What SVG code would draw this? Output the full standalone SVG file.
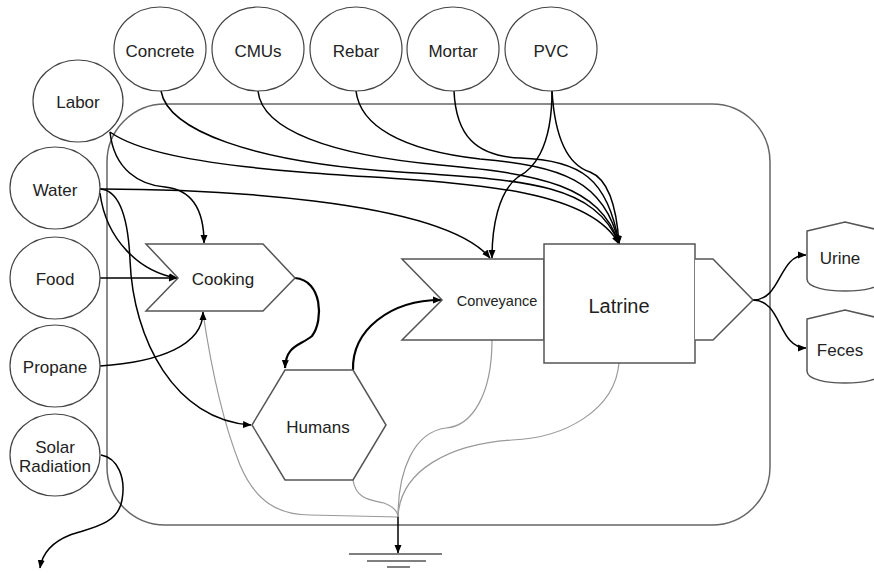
<svg xmlns="http://www.w3.org/2000/svg" width="874" height="574" viewBox="0 0 874 574">
<style>
.node{fill:#fff;stroke:#555;stroke-width:1.5}
.ell{fill:#fff;stroke:#444;stroke-width:1.2}
.t{font-family:"Liberation Sans",Arial,sans-serif;font-size:17px;fill:#222;text-anchor:middle;dominant-baseline:central}
.c{fill:none;stroke:#000;stroke-width:1.5}
.ck{fill:none;stroke:#000;stroke-width:2.2}
.g{fill:none;stroke:#999;stroke-width:1.2}
.ar{marker-end:url(#ah)}
</style>
<defs>
<marker id="ah" markerWidth="9" markerHeight="8" refX="8" refY="4" orient="auto" markerUnits="userSpaceOnUse">
<path d="M0,0.5 L8.5,4 L0,7.5 Z" fill="#000"/>
</marker>
</defs>
<rect x="0" y="0" width="874" height="574" fill="#fff"/>
<g id="boundary">
<rect x="107" y="104" width="663" height="421" rx="58" ry="58" fill="none" stroke="#666" stroke-width="1.5"/>
</g>
<g id="connectors">
<path class="g" d="M203,313 C210,360 222,420 240,465 C256,503 280,515 310,515 L398,517"/>
<path class="g" d="M353,480 C356,500 372,500 384,503 C394,507 398,512 398,517"/>
<path class="g" d="M492,340 C492,395 472,426 446,428 C414,432 398,470 398,517"/>
<path class="g" d="M619,363 C615,410 565,438 512,440 C450,444 400,470 398,517"/>
<path class="c ar" d="M398,517 L398,553"/>
<path class="c ar" d="M161,91 C168,130 250,162 400,172 C520,180 595,182 619,244"/>
<path class="c ar" d="M258,91 C262,130 330,155 440,165 C540,174 600,185 619,244"/>
<path class="c ar" d="M356,91 C360,125 400,150 480,159 C560,166 605,180 619,244"/>
<path class="c ar" d="M454,91 C456,135 475,156 520,158 C580,160 608,178 619,244"/>
<path class="c ar" d="M552,91 C555,140 568,165 590,172 C610,180 617,212 619,244"/>
<path class="c ar" d="M110,132 C135,150 190,163 300,172 C430,183 585,180 619,244"/>
<path class="c ar" d="M552,91 C552,150 532,170 518,177 C498,192 492,228 492,258"/>
<path class="c ar" d="M100,189 C200,189 440,198 490,258"/>
<path class="c ar" d="M110,132 C114,170 140,185 165,187 C195,190 204,215 204,243"/>
<path class="c ar" d="M100,193 C106,240 140,272 177,278"/>
<path class="c ar" d="M100,189 C118,190 128,215 130,260 C133,340 175,420 251,425"/>
<path class="c ar" d="M100,278 L177,278"/>
<path class="c ar" d="M100,366 C160,362 203,345 203,312"/>
<path class="ck ar" d="M295,278 C322,280 324,320 312,336 C300,346 286,345 285,368"/>
<path class="ck ar" d="M353,370 C352,330 390,300 441,300"/>
<path class="c ar" d="M753,300 C782,300 778,255 806,255"/>
<path class="c ar" d="M753,300 C782,300 778,348 806,348"/>
<path class="c ar" d="M101,455 C118,458 126,478 122,500 C118,525 90,528 70,535 C50,543 42,555 40,568"/>
</g>
<g id="ground" stroke="#555" stroke-width="1.5">
<line x1="349" y1="554" x2="442" y2="554"/>
<line x1="367" y1="561" x2="426" y2="561"/>
<line x1="387" y1="567" x2="410" y2="567"/>
</g>
<g id="concrete"><ellipse class="ell" cx="160" cy="49" rx="46" ry="42"/><text class="t" x="160" y="51">Concrete</text></g>
<g id="cmus"><ellipse class="ell" cx="258" cy="49" rx="46" ry="42"/><text class="t" x="258" y="51">CMUs</text></g>
<g id="rebar"><ellipse class="ell" cx="356" cy="49" rx="46" ry="42"/><text class="t" x="356" y="51">Rebar</text></g>
<g id="mortar"><ellipse class="ell" cx="453" cy="49" rx="46" ry="42"/><text class="t" x="453" y="51">Mortar</text></g>
<g id="pvc"><ellipse class="ell" cx="551" cy="49" rx="46" ry="42"/><text class="t" x="551" y="51">PVC</text></g>
<g id="labor"><ellipse class="ell" cx="78" cy="101" rx="45" ry="41"/><text class="t" x="78" y="102">Labor</text></g>
<g id="water"><ellipse class="ell" cx="55" cy="188" rx="45" ry="41"/><text class="t" x="55" y="190">Water</text></g>
<g id="food"><ellipse class="ell" cx="55" cy="278" rx="45" ry="41"/><text class="t" x="55" y="279">Food</text></g>
<g id="propane"><ellipse class="ell" cx="55" cy="366" rx="45" ry="41"/><text class="t" x="55" y="367">Propane</text></g>
<g id="solar"><ellipse class="ell" cx="55" cy="455" rx="45" ry="41"/><text class="t" x="55" y="447">Solar</text><text class="t" x="55" y="466">Radiation</text></g>
<g id="cooking"><polygon class="node" points="146,244 263,244 295,278 263,311 146,311 178,278"/><text class="t" x="223" y="279">Cooking</text></g>
<g id="humans"><polygon class="node" points="285,370 353,370 386,425 353,480 285,480 252,425"/><text class="t" x="318" y="427">Humans</text></g>
<g id="conveyance"><polygon class="node" points="402,259 544,259 544,340 402,340 442,300"/><text class="t" x="497" y="301" style="font-size:14.5px">Conveyance</text></g>
<g id="latrine"><rect class="node" x="544" y="244" width="151" height="119"/><text class="t" x="619" y="306" style="font-size:20px">Latrine</text>
<polyline class="node" points="695,259 713,259 753,300 713,340 695,340" fill="none"/></g>
<g id="urine"><path class="node" d="M807,231 L845,222 L883,231 L883,279 C883,288 862,291 845,291 C828,291 807,288 807,279 Z"/><text class="t" x="840" y="258">Urine</text></g>
<g id="feces"><path class="node" d="M807,319 L845,310 L883,319 L883,371 C883,380 862,383 845,383 C828,383 807,380 807,371 Z"/><text class="t" x="840" y="350">Feces</text></g>
</svg>
